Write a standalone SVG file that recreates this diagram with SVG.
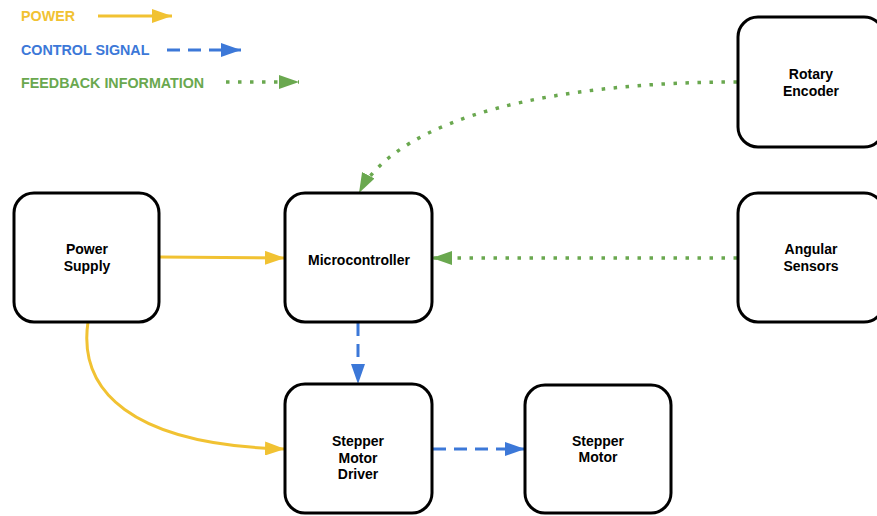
<svg xmlns="http://www.w3.org/2000/svg" width="877" height="516" viewBox="0 0 877 516">
<style>
.box{fill:#fff;stroke:#000;stroke-width:3}
.lbl{font-family:"Liberation Sans",Arial,sans-serif;font-weight:bold;font-size:14px;text-anchor:middle;fill:#000}
.leg{font-family:"Liberation Sans",Arial,sans-serif;font-weight:bold;font-size:14.3px}
.pw{fill:none;stroke:#f1c232;stroke-width:3}
.cs{fill:none;stroke:#3c78d8;stroke-width:3;stroke-dasharray:13 8}
.fb{fill:none;stroke:#6aa84f;stroke-width:3.5;stroke-dasharray:3.5 8.5}
</style>
<defs>
<marker id="aY" markerUnits="userSpaceOnUse" markerWidth="20" markerHeight="14" refX="20" refY="7" orient="auto"><path d="M0,0 L20,7 L0,14 z" fill="#f1c232"/></marker>
<marker id="aB" markerUnits="userSpaceOnUse" markerWidth="20" markerHeight="14" refX="20" refY="7" orient="auto"><path d="M0,0 L20,7 L0,14 z" fill="#3c78d8"/></marker>
<marker id="aG" markerUnits="userSpaceOnUse" markerWidth="20" markerHeight="14" refX="20" refY="7" orient="auto"><path d="M0,0 L20,7 L0,14 z" fill="#6aa84f"/></marker>
</defs>
<g id="legend">
<text class="leg" x="21" y="21" fill="#f1c232">POWER</text>
<line class="pw" x1="98" y1="16" x2="172" y2="16" marker-end="url(#aY)"/>
<text class="leg" x="21" y="55" fill="#3c78d8">CONTROL SIGNAL</text>
<line class="cs" x1="167" y1="50" x2="241" y2="50" marker-end="url(#aB)"/>
<text class="leg" x="21" y="88" fill="#6aa84f">FEEDBACK INFORMATION</text>
<line class="fb" x1="226" y1="82" x2="299" y2="82" marker-end="url(#aG)"/>
</g>
<g id="connectors">
<line class="pw" x1="160" y1="257" x2="285" y2="258" marker-end="url(#aY)"/>
<path class="pw" d="M88,322 C78,390 130,445 285,449" marker-end="url(#aY)"/>
<line class="cs" x1="358" y1="323" x2="358" y2="384" marker-end="url(#aB)"/>
<line class="cs" x1="433" y1="449" x2="525" y2="449" marker-end="url(#aB)"/>
<path class="fb" d="M737,82 C560,82 400,115 359,193" marker-end="url(#aG)"/>
<line class="fb" x1="737" y1="258" x2="432" y2="258" marker-end="url(#aG)"/>
</g>
<g id="power-supply">
<rect class="box" x="14" y="193" width="145" height="129" rx="20"/>
<text class="lbl" x="87" y="254">Power</text>
<text class="lbl" x="87" y="271">Supply</text>
</g>
<g id="microcontroller">
<rect class="box" x="285" y="193" width="147" height="129" rx="20"/>
<text class="lbl" x="359" y="265">Microcontroller</text>
</g>
<g id="stepper-motor-driver">
<rect class="box" x="285" y="384" width="147" height="129" rx="20"/>
<text class="lbl" x="358" y="446">Stepper</text>
<text class="lbl" x="358" y="463">Motor</text>
<text class="lbl" x="358" y="479">Driver</text>
</g>
<g id="stepper-motor">
<rect class="box" x="525" y="385" width="146" height="128" rx="20"/>
<text class="lbl" x="598" y="446">Stepper</text>
<text class="lbl" x="598" y="462">Motor</text>
</g>
<g id="rotary-encoder">
<rect class="box" x="738" y="17" width="146" height="130" rx="20"/>
<text class="lbl" x="811" y="79">Rotary</text>
<text class="lbl" x="811" y="96">Encoder</text>
</g>
<g id="angular-sensors">
<rect class="box" x="738" y="193" width="146" height="129" rx="20"/>
<text class="lbl" x="811" y="254">Angular</text>
<text class="lbl" x="811" y="271">Sensors</text>
</g>
</svg>
